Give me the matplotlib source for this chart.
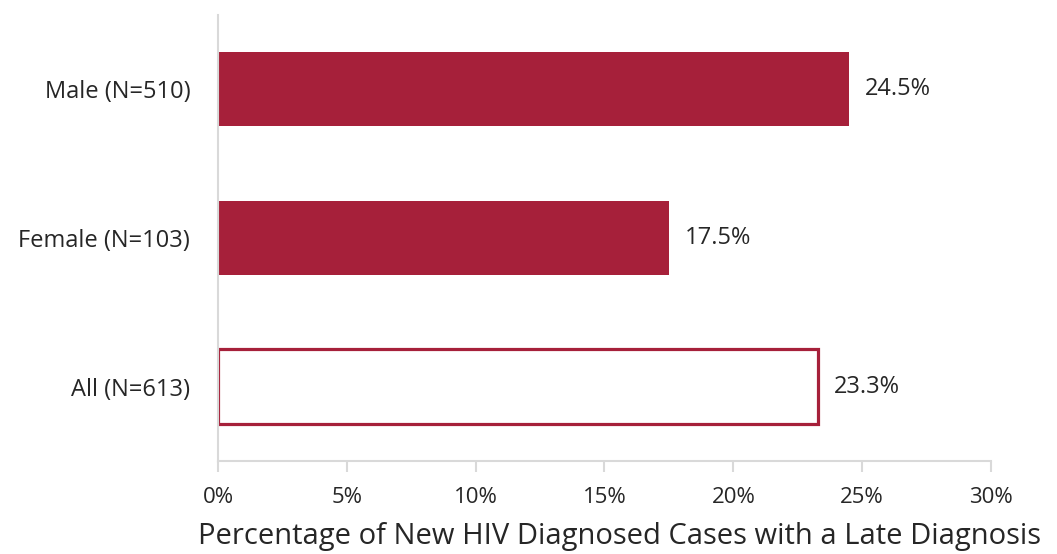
import matplotlib
matplotlib.use("Agg")
import matplotlib.pyplot as plt

categories = ["All (N=613)", "Female (N=103)", "Male (N=510)"]
values = [23.3, 17.5, 24.5]
filled = [False, True, True]

red = "#A6203A"
plt.rcParams['font.family'] = ['Open Sans', 'DejaVu Sans']

fig = plt.figure(figsize=(10.57, 5.54), dpi=100)
ax = fig.add_axes([0.2062, 0.168, 0.7314, 0.805])

ypos = range(len(categories))
for y, v, f in zip(ypos, values, filled):
    if f:
        ax.barh(y, v, height=0.5, color=red)
    else:
        ax.barh(y, v, height=0.5, facecolor="white", edgecolor=red, linewidth=2.3)
    ax.text(v + 0.6, y, f"{v:.1f}%", va="center", ha="left", fontsize=17, color="#262626")

ax.set_xlim(0, 30)
ax.set_ylim(-0.5, 2.5)
ax.set_xticks(range(0, 31, 5))
ax.set_xticklabels([f"{t}%" for t in range(0, 31, 5)])
ax.set_yticks(list(ypos))
ax.set_yticklabels(categories)
ax.tick_params(axis="y", length=0, pad=20, labelsize=17, labelcolor="#262626")
ax.tick_params(axis="x", length=8, width=1.5, color="#D9D9D9", pad=11,
               labelsize=16, labelcolor="#262626")
for s in ["top", "right"]:
    ax.spines[s].set_visible(False)
for s in ["left", "bottom"]:
    ax.spines[s].set_color("#D9D9D9")
    ax.spines[s].set_linewidth(1.5)

ax.set_xlabel("Percentage of New HIV Diagnosed Cases with a Late Diagnosis",
              fontsize=21, color="#262626")
ax.xaxis.set_label_coords(0.52, -0.138)

fig.savefig("out.png", dpi=100)
